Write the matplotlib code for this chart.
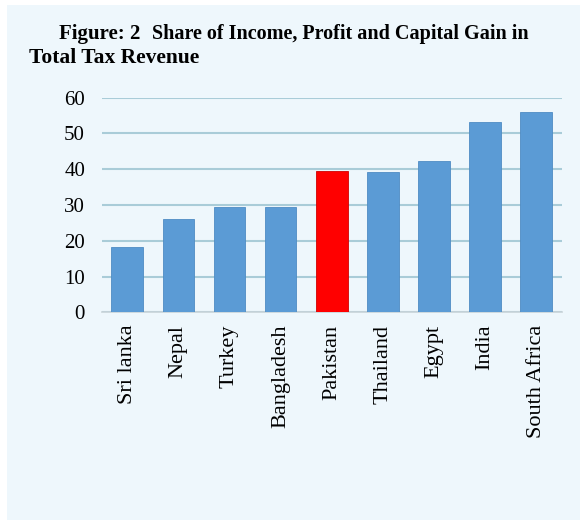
import matplotlib
matplotlib.use("Agg")
import matplotlib.pyplot as plt
from matplotlib.patches import Rectangle

countries = ["Sri lanka", "Nepal", "Turkey", "Bangladesh", "Pakistan",
             "Thailand", "Egypt", "India", "South Africa"]
shares = [18.2, 26.1, 29.5, 29.5, 39.5, 39.3, 42.3, 53.1, 56.1]
highlight = "Pakistan"
yticks = [0, 10, 20, 30, 40, 50, 60]

bg = "#EEF7FC"
blue = "#5B9BD5"
red = "#FF0000"
grid = "#A9CCD8"

plt.rcParams['font.family'] = ['Liberation Serif', 'DejaVu Serif']

fig = plt.figure(figsize=(5.8, 5.2), dpi=100, facecolor="white")
fig.patches.append(Rectangle((7/580, 0), 1 - 7/580, 1 - 5/520,
                             transform=fig.transFigure, facecolor=bg,
                             edgecolor="none", zorder=-10))

ax = fig.add_axes([101.7/580, 1 - 312.3/520, 460/580, (312.3 - 97.7)/520])
ax.set_facecolor("none")
colors = [red if c == highlight else blue for c in countries]
ax.bar(range(len(countries)), shares, width=0.62, color=colors,
       edgecolor=[("#D00000" if c == highlight else "#4F8CC4") for c in countries],
       linewidth=0.6, zorder=3)
ax.set_xlim(-0.5, len(countries) - 0.5)
ax.set_ylim(0, 60)
ax.set_yticks(yticks)
ax.set_yticklabels([str(v) for v in yticks], fontsize=15)
ax.set_xticks(range(len(countries)))
ax.set_xticklabels(countries, rotation=90, fontsize=16)
ax.tick_params(axis="y", length=0, pad=12)
ax.tick_params(axis="x", length=0, pad=9)
for s in ["top", "right", "left"]:
    ax.spines[s].set_visible(False)
ax.spines["bottom"].set_color("#C8D3D8")
ax.spines["bottom"].set_linewidth(1.2)
ax.yaxis.grid(True, color=grid, linewidth=1.5, zorder=0)
ax.set_axisbelow(True)

fig.text(59/580, 1 - 39/520, "Figure: 2",
         fontsize=15, fontweight="bold", ha="left", va="baseline")
fig.text(152/580, 1 - 39/520, "Share of Income, Profit and Capital Gain in",
         fontsize=14.5, fontweight="bold", ha="left", va="baseline")
fig.text(29/580, 1 - 63/520, "Total Tax Revenue",
         fontsize=15.5, fontweight="bold", ha="left", va="baseline")

fig.savefig("out.png", dpi=100, facecolor=fig.get_facecolor())
